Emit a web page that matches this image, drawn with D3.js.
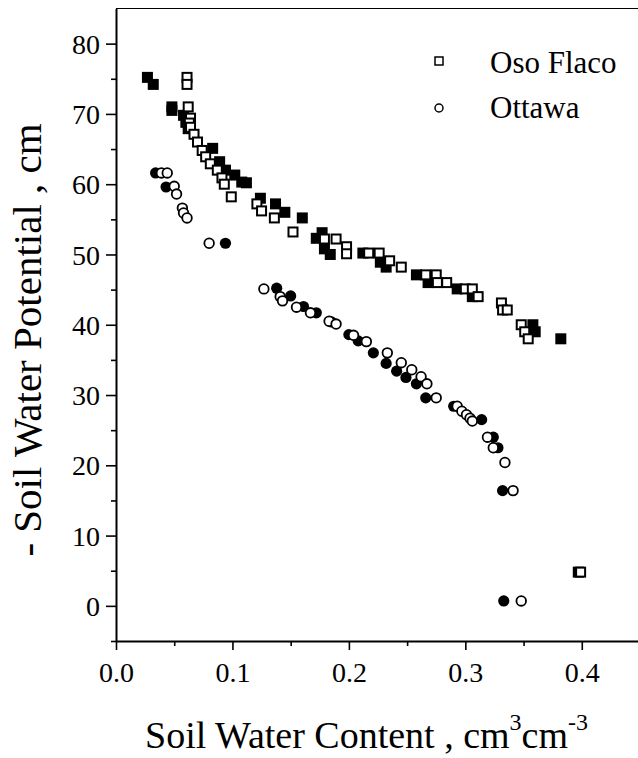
<!DOCTYPE html>
<html>
<head>
<meta charset="utf-8">
<script src="https://cdn.jsdelivr.net/npm/d3@7.9.0/dist/d3.min.js"></script>
<style>
  body { margin: 0; background: #fff; }
  svg { display: block; }
  svg text { font-family: "Liberation Serif", "Times New Roman", serif; fill: #000; }
</style>
</head>
<body>
<svg width="638" height="758"></svg>
<script>
// Oso Flaco, filled squares [water content, -potential]
const osoFilled = [
  [0.027, 75.2], [0.032, 74.2], [0.048, 71.0], [0.048, 70.5], [0.058, 69.8],
  [0.060, 68.8], [0.062, 67.9], [0.083, 65.1], [0.089, 63.2], [0.094, 62.0],
  [0.102, 61.3], [0.108, 60.3], [0.112, 60.2], [0.124, 58.0], [0.137, 57.2],
  [0.145, 56.0], [0.160, 55.2], [0.172, 52.3], [0.177, 53.1], [0.179, 50.8],
  [0.184, 50.0], [0.212, 50.2], [0.227, 48.9], [0.232, 48.2], [0.258, 47.1],
  [0.268, 46.0], [0.293, 45.1], [0.306, 44.0], [0.358, 40.0], [0.360, 39.0],
  [0.382, 38.0], [0.397, 4.8]
];
// Oso Flaco, open squares
const osoOpen = [
  [0.061, 75.2], [0.061, 74.2], [0.062, 71.0], [0.064, 69.4], [0.063, 68.7],
  [0.064, 68.1], [0.067, 67.1], [0.070, 66.0], [0.074, 64.8], [0.077, 63.9],
  [0.081, 62.9], [0.087, 62.0], [0.091, 60.9], [0.093, 60.0], [0.099, 58.2],
  [0.121, 57.2], [0.125, 56.2], [0.136, 55.2], [0.152, 53.2], [0.179, 52.2],
  [0.189, 52.2], [0.198, 51.1], [0.198, 50.1], [0.217, 50.2], [0.226, 50.2],
  [0.235, 49.1], [0.245, 48.2], [0.266, 47.1], [0.275, 47.1], [0.276, 46.0],
  [0.284, 46.0], [0.300, 45.1], [0.306, 45.1], [0.311, 44.0], [0.331, 43.1],
  [0.332, 42.1], [0.336, 42.1], [0.348, 40.0], [0.351, 39.0], [0.354, 38.0],
  [0.399, 4.8]
];
// Ottawa, filled circles
const ottFilled = [
  [0.034, 61.6], [0.043, 59.6], [0.094, 51.6], [0.138, 45.2], [0.150, 44.1],
  [0.161, 42.6], [0.172, 41.7], [0.185, 40.4], [0.200, 38.6], [0.208, 37.7],
  [0.221, 36.0], [0.232, 34.5], [0.241, 33.4], [0.249, 32.5], [0.258, 31.6],
  [0.266, 29.6], [0.290, 28.4], [0.314, 26.5], [0.324, 24.0], [0.328, 22.5],
  [0.332, 16.4], [0.333, 0.7]
];
// Ottawa, open circles
const ottOpen = [
  [0.039, 61.6], [0.044, 61.6], [0.050, 59.7], [0.052, 58.6], [0.057, 56.6],
  [0.058, 55.9], [0.061, 55.2], [0.080, 51.6], [0.127, 45.1], [0.141, 44.0],
  [0.143, 43.4], [0.155, 42.5], [0.167, 41.7], [0.183, 40.5], [0.189, 40.1],
  [0.204, 38.5], [0.215, 37.6], [0.233, 36.0], [0.245, 34.6], [0.254, 33.6],
  [0.262, 32.6], [0.267, 31.6], [0.275, 29.6], [0.293, 28.4], [0.297, 27.7],
  [0.301, 27.2], [0.304, 26.7], [0.306, 26.3], [0.319, 24.0], [0.324, 22.5],
  [0.334, 20.4], [0.341, 16.4], [0.348, 0.7]
];

const xTicks = [0, 0.1, 0.2, 0.3, 0.4];
const yTicks = [0, 10, 20, 30, 40, 50, 60, 70, 80];
const legendNames = ["Oso Flaco", "Ottawa"];

const svg = d3.select("svg");
const x = d3.scaleLinear().domain([0, 0.45]).range([116, 640]);
const y = d3.scaleLinear().domain([-5, 85]).range([641, 8.5]);

// frame top line
svg.append("line")
  .attr("x1", x(0)).attr("x2", 640).attr("y1", y(85)).attr("y2", y(85))
  .attr("stroke", "#000").attr("stroke-width", 1.2);

// x axis
const xAxis = svg.append("g").attr("transform", `translate(0,${y(-5)})`)
  .call(d3.axisBottom(x).tickValues(xTicks).tickFormat(d3.format(".1f")).tickSize(9).tickSizeOuter(0));
svg.append("g").attr("transform", `translate(0,${y(-5)})`)
  .call(d3.axisBottom(x).tickValues([0.05, 0.15, 0.25, 0.35, 0.45]).tickFormat("").tickSize(5).tickSizeOuter(0))
  .select(".domain").remove();

// y axis
const yAxis = svg.append("g").attr("transform", `translate(${x(0)},0)`)
  .call(d3.axisLeft(y).tickValues(yTicks).tickSize(10).tickSizeOuter(0));
svg.append("g").attr("transform", `translate(${x(0)},0)`)
  .call(d3.axisLeft(y).tickValues([-5, 5, 15, 25, 35, 45, 55, 65, 75]).tickFormat("").tickSize(5).tickSizeOuter(0))
  .select(".domain").remove();

svg.selectAll(".domain").attr("stroke-width", 2);
svg.selectAll(".tick line").attr("stroke-width", 1.6);
xAxis.selectAll("text").attr("font-size", 28).attr("dy", 0).attr("y", 41);
yAxis.selectAll("text").attr("font-size", 28).attr("x", -16).attr("dy", "0.34em");

// markers
const side = 11;
svg.append("g").selectAll("rect").data(osoFilled).join("rect")
  .attr("x", d => x(d[0]) - side / 2).attr("y", d => y(d[1]) - side / 2)
  .attr("width", side).attr("height", side).attr("fill", "#000");
svg.append("g").selectAll("circle").data(ottFilled).join("circle")
  .attr("cx", d => x(d[0])).attr("cy", d => y(d[1])).attr("r", 5.6).attr("fill", "#000");
svg.append("g").selectAll("rect").data(osoOpen).join("rect")
  .attr("x", d => x(d[0]) - (side - 2) / 2).attr("y", d => y(d[1]) - (side - 2) / 2)
  .attr("width", side - 2).attr("height", side - 2)
  .attr("fill", "#fff").attr("stroke", "#000").attr("stroke-width", 2);
svg.append("g").selectAll("circle").data(ottOpen).join("circle")
  .attr("cx", d => x(d[0])).attr("cy", d => y(d[1])).attr("r", 4.8)
  .attr("fill", "#fff").attr("stroke", "#000").attr("stroke-width", 1.8);

// legend
const leg = svg.append("g");
leg.append("rect").attr("x", 435).attr("y", 57).attr("width", 8).attr("height", 8)
  .attr("fill", "#fff").attr("stroke", "#000").attr("stroke-width", 1.5);
leg.append("circle").attr("cx", 439).attr("cy", 108).attr("r", 4)
  .attr("fill", "#fff").attr("stroke", "#000").attr("stroke-width", 1.5);
leg.selectAll("text").data(legendNames).join("text")
  .attr("x", 490).attr("y", (d, i) => 73 + i * 45)
  .attr("font-size", 31).text(d => d);

// axis titles
const xt = svg.append("text").attr("x", 145).attr("y", 748).attr("font-size", 38);
xt.append("tspan").text("Soil Water Content , cm");
xt.append("tspan").attr("font-size", 24).attr("dy", -18).text("3");
xt.append("tspan").attr("dy", 18).text("cm");
xt.append("tspan").attr("font-size", 24).attr("dy", -18).text("-3");

svg.append("text")
  .attr("transform", "translate(41,340) rotate(-90)")
  .attr("text-anchor", "middle").attr("font-size", 41)
  .text("- Soil Water Potential , cm");
</script>
</body>
</html>
